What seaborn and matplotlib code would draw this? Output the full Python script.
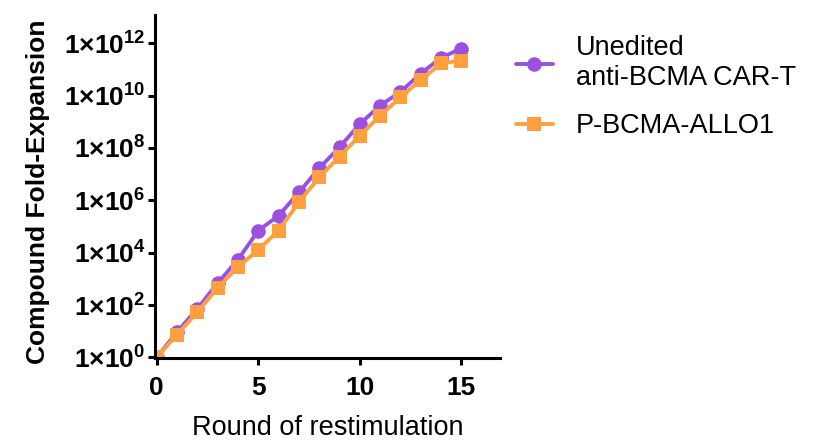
import numpy as np
import pandas as pd
import seaborn as sns
from matplotlib import pyplot as plt
from matplotlib.ticker import FixedLocator, FuncFormatter

rounds = list(range(16))
unedited = [1, 9.3, 72, 690, 5.4e3, 7e4, 2.6e5, 2e6, 1.7e7, 1.07e8, 8.3e8,
            4.2e9, 1.4e10, 7e10, 2.8e11, 6.3e11]
allo1 = [1, 7.4, 53, 460, 2.8e3, 1.3e4, 7e4, 8.5e5, 7.6e6, 4.7e7, 3e8,
         1.7e9, 8.7e9, 4e10, 1.7e11, 2.2e11]
groups = ["Unedited\nanti-BCMA CAR-T", "P-BCMA-ALLO1"]
colors = ["#9b51e0", "#ffa040"]

df = pd.DataFrame({
    "round": rounds * 2,
    "fold": unedited + allo1,
    "group": [groups[0]] * len(rounds) + [groups[1]] * len(rounds),
})

sns.set_style("ticks")
plt.rcParams['font.family'] = ['Liberation Sans', 'DejaVu Sans']
plt.rcParams['mathtext.default'] = 'regular'
plt.rcParams['text.color'] = 'black'
plt.rcParams['axes.labelcolor'] = 'black'
plt.rcParams['xtick.color'] = 'black'
plt.rcParams['ytick.color'] = 'black'

fig = plt.figure(figsize=(8.25, 4.43), dpi=100)
ax = fig.add_axes([0.188, 0.192, 0.418, 0.774])

sns.lineplot(data=df, x="round", y="fold", hue="group", style="group",
             palette=colors, markers=["o", "s"], dashes=False, linewidth=2.8,
             markersize=10.5, markeredgewidth=0, ax=ax)

ax.set_yscale("log")
ax.set_ylim(0.95, 1.2e13)
ax.set_xlim(-0.08, 16.9)
ax.yaxis.set_major_locator(FixedLocator([10.0**k for k in range(0, 13, 2)]))
ax.yaxis.set_minor_locator(FixedLocator([]))
ax.yaxis.set_major_formatter(FuncFormatter(
    lambda v, p: "1×10$^{%d}$" % round(np.log10(v))))
ax.set_xticks([0, 5, 10, 15])

for s in ["top", "right"]:
    ax.spines[s].set_visible(False)
for s in ["left", "bottom"]:
    ax.spines[s].set_linewidth(2.2)
    ax.spines[s].set_color("black")
ax.tick_params(axis="both", width=2.2, length=5, labelsize=19)
ax.tick_params(axis="y", pad=2)
ax.tick_params(axis="x", pad=8)
for lab in ax.get_xticklabels() + ax.get_yticklabels():
    lab.set_fontweight("bold")

ax.set_ylabel("Compound Fold-Expansion", fontsize=19, fontweight="bold")
ax.yaxis.set_label_coords(-0.305, 0.485)
ax.set_xlabel("Round of restimulation", fontsize=19.5, labelpad=11)

leg = ax.legend(loc="upper left", bbox_to_anchor=(0.596, 0.975),
                bbox_transform=fig.transFigure, frameon=False,
                fontsize=19.5, handlelength=1.35, handletextpad=0.85,
                labelspacing=0.8, markerscale=1.0)

plt.savefig("out.png", dpi=100)
